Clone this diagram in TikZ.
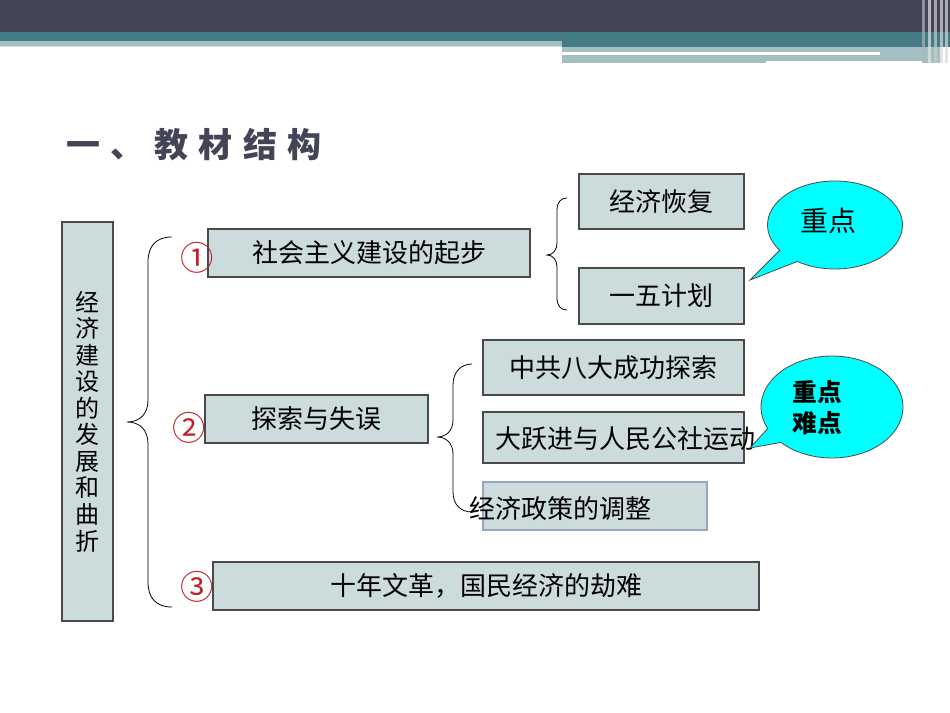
\documentclass[tikz,border=0pt]{standalone}
\usepackage{fontspec}
\setmainfont{Noto Sans CJK SC}
\newfontfamily\cjk{Noto Sans CJK SC}
\usepackage{xcolor}
\usetikzlibrary{positioning}
\definecolor{bardark}{HTML}{434557}
\definecolor{barteal}{HTML}{437C84}
\definecolor{barlight}{HTML}{A3BFC3}
\definecolor{boxfill}{HTML}{CCDBDC}
\definecolor{boxline}{HTML}{4A4A4A}
\definecolor{softline}{HTML}{9AA4C2}
\definecolor{numred}{HTML}{C0202A}
\definecolor{callfill}{HTML}{00FFFF}

\begin{document}
\begin{tikzpicture}[x=0.75pt,y=-0.75pt,
  box/.style={draw=boxline,fill=boxfill,line width=0.8pt,inner sep=0pt,
    font=\cjk\fontsize{19.5}{22}\selectfont},
  num/.style={text=numred,inner sep=0pt,font=\cjk\fontsize{25}{26}\selectfont},
  callout/.style={draw=boxline,fill=callfill,line width=0.6pt},
  brace/.style={draw=black,line width=0.6pt}]
\useasboundingbox (0,0) rectangle (950,713);

% banner
\fill[bardark] (0,0) rectangle (950,32);
\fill[barteal] (0,32) rectangle (950,41);
\fill[barteal] (562,41) rectangle (950,47);
\fill[barlight] (0,41) rectangle (562,46);
\fill[barlight!50] (0,46) rectangle (562,47);
\fill[barlight] (562,47) rectangle (940,63);
\fill[white] (562,52) rectangle (880,55);
\fill[white] (766,61) rectangle (922,63);
\foreach \xs/\c in {922/gray!60,928/white!80!gray,934/gray!40,940/white!70!gray,945/gray!30}
  \fill[\c,opacity=0.7] (\xs,0) rectangle +(2.5,63);

\node[anchor=west,text=bardark,inner sep=0pt,
  font=\cjk\bfseries\fontsize{25.5}{28}\selectfont\addfontfeature{LetterSpace=30}]
  (title) at (66,145) {一、教材结构};

% boxes
\node[box,minimum width=38.25pt,minimum height=299.25pt,align=center,
  font=\cjk\fontsize{18}{19.9}\selectfont] (main) at (87.5,421.5)
  {经\\济\\建\\设\\的\\发\\展\\和\\曲\\折};
\node[box,minimum width=241.5pt,minimum height=36pt] (start) at (369,253) {社会主义建设的起步};
\node[box,minimum width=123.75pt,minimum height=41.25pt] (recover) at (661.5,201.5) {经济恢复};
\node[box,minimum width=123.75pt,minimum height=42pt] (plan) at (661.5,296) {一五计划};
\node[box,minimum width=167.25pt,minimum height=36pt] (explore) at (316.5,419) {探索与失误};
\node[box,minimum width=195.75pt,minimum height=41.25pt] (eighth) at (613.5,367.5) {中共八大成功探索};
\node[box,minimum width=195.75pt,minimum height=38.25pt] (leap) at (613.5,437.5) {};
\node[font=\cjk\fontsize{19.5}{22}\selectfont,inner sep=0pt] (leaptext) at (625,439) {大跃进与人民公社运动};
\node[box,draw=softline,minimum width=168pt,minimum height=36pt] (adjust) at (595,506) {};
\node[font=\cjk\fontsize{19.5}{22}\selectfont,inner sep=0pt] (adjusttext) at (560,509) {经济政策的调整};
\node[box,minimum width=409.5pt,minimum height=36pt] (decade) at (486,586) {十年文革，国民经济的劫难};

\node[num] (n1) at (197,258) {①};
\node[num] (n2) at (189,428) {②};
\node[num] (n3) at (197,587) {③};

% braces
\draw[brace] (172,237) .. controls (156,237) and (148,246) .. (148,262) -- (148,400)
  .. controls (148,414) and (140,422) .. (127,422)
  .. controls (140,422) and (148,430) .. (148,444) -- (148,582)
  .. controls (148,598) and (156,607) .. (172,607);
\draw[brace] (567,198) .. controls (561,198) and (557,202) .. (557,210) -- (557,243)
  .. controls (557,250) and (553,255) .. (547,255)
  .. controls (553,255) and (557,260) .. (557,267) -- (557,298)
  .. controls (557,306) and (561,310) .. (567,310);
\draw[brace] (472,364) .. controls (461,364) and (453,372) .. (453,385) -- (453,420)
  .. controls (453,431) and (446,437) .. (437,437)
  .. controls (446,437) and (453,443) .. (453,454) -- (453,492)
  .. controls (453,505) and (461,512) .. (472,512);

% callouts
\draw[callout] (835,225) ++(145:67.5 and 44)
  arc[start angle=145,end angle=484,x radius=67.5,y radius=44] -- (750,280) -- cycle;
\node[font=\cjk\fontsize{21}{22}\selectfont,inner sep=0pt] (key) at (828,221) {重点};
\draw[callout] (832,407) ++(155:71 and 51)
  arc[start angle=155,end angle=496,x radius=71,y radius=51] -- (750,448) -- cycle;
\node[font=\cjk\bfseries\fontsize{18.5}{23.25}\selectfont,align=center,inner sep=0pt]
  (keyhard) at (817,408) {重点\\难点};
\end{tikzpicture}
\end{document}
